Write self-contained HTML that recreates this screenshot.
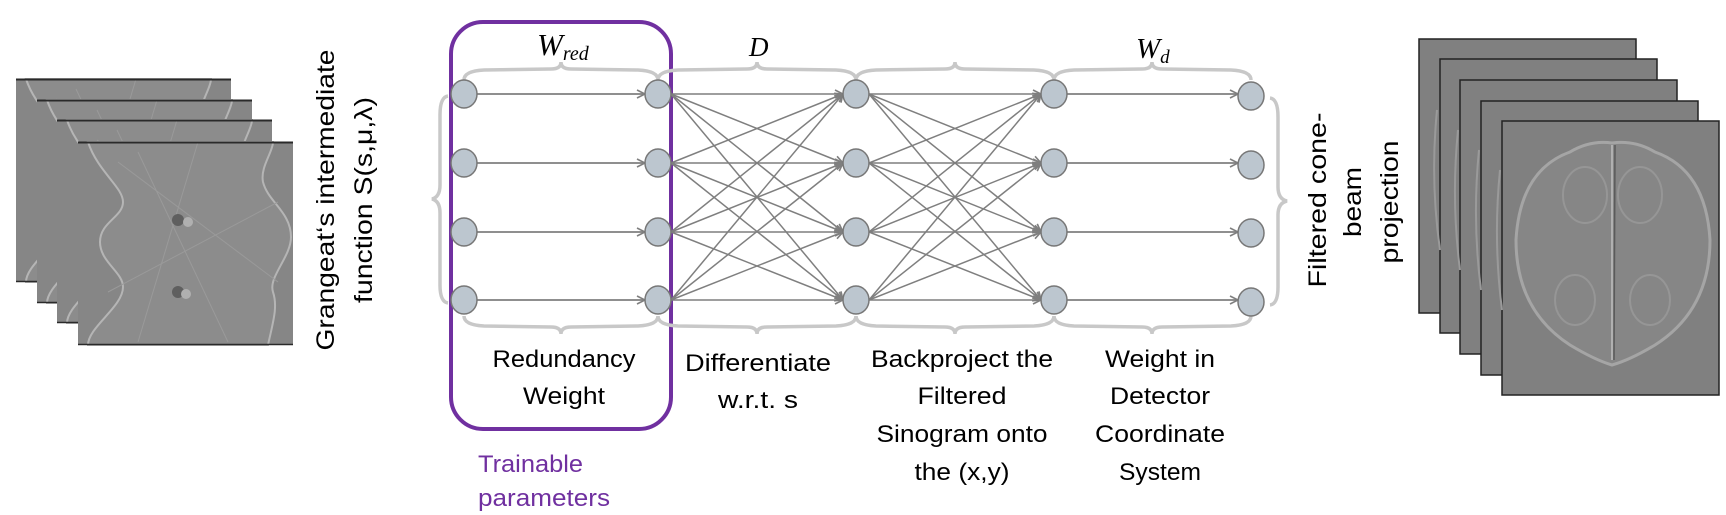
<!DOCTYPE html>
<html><head><meta charset="utf-8"><style>html,body{margin:0;padding:0;background:#fff}svg{display:block}</style></head>
<body>
<svg width="1726" height="515" viewBox="0 0 1726 515" xmlns="http://www.w3.org/2000/svg">
<defs>
<marker id="ar" markerWidth="10" markerHeight="10" refX="9" refY="5" orient="auto" markerUnits="userSpaceOnUse">
<path d="M1,1 L9,5 L1,9" fill="none" stroke="#7f7f7f" stroke-width="1.6"/>
</marker>
<g id="sino">
<rect x="0" y="0" width="215" height="203" fill="#868686"/>
<path d="M10,0 C20,30 45,45 45,60 C45,75 22,80 22,100 C22,120 45,130 45,145 C45,165 10,185 10,203 L190,203 C195,180 200,165 195,150 C190,135 213,115 213,95 C213,70 190,60 185,40 C182,25 195,10 195,0 Z" fill="#8c8c8c" stroke="#b5b5b5" stroke-width="2"/>
<path d="M40,20 L200,140 M30,150 L200,60 M60,10 L150,200 M120,0 L60,200" stroke="#9a9a9a" stroke-width="1" fill="none"/>
<circle cx="100" cy="78" r="6" fill="#5f5f5f"/><circle cx="100" cy="150" r="6" fill="#5f5f5f"/>
<circle cx="110" cy="80" r="5" fill="#b0b0b0"/><circle cx="108" cy="152" r="5" fill="#b0b0b0"/>
<line x1="0" y1="0.5" x2="215" y2="0.5" stroke="#2a2a2a" stroke-width="2"/>
<line x1="0" y1="202.5" x2="215" y2="202.5" stroke="#2a2a2a" stroke-width="1.5"/>
</g>
<g id="proj">
<rect x="0" y="0" width="217" height="274" fill="#808080" stroke="#222" stroke-width="1.5"/>
</g>
</defs>

<use href="#sino" x="16" y="79"/>
<use href="#sino" x="37" y="100"/>
<use href="#sino" x="57" y="120"/>
<use href="#sino" x="78" y="142"/>

<g font-family="Liberation Sans, sans-serif" font-size="25" fill="#000">
<text transform="translate(334,200) rotate(-90)" text-anchor="middle" textLength="301" lengthAdjust="spacingAndGlyphs">Grangeat‘s intermediate</text>
<text transform="translate(372,200) rotate(-90)" text-anchor="middle" textLength="206" lengthAdjust="spacingAndGlyphs">function S(s,μ,λ)</text>
</g>

<rect x="451" y="22" width="220" height="407" rx="32" ry="32" fill="none" stroke="#7030a0" stroke-width="4"/>

<g fill="none" stroke="#c8c8c8" stroke-width="3.5">
<path d="M464,80 Q464,71 484,70 L551,69 Q561,69 561,62 Q561,69 571,69 L638,70 Q658,71 658,80"/>
<path d="M658,80 Q658,71 678,70 L747,69 Q757,69 757,62 Q757,69 767,69 L836,70 Q856,71 856,80"/>
<path d="M856,80 Q856,71 876,70 L945,69 Q955,69 955,62 Q955,69 965,69 L1034,70 Q1054,71 1054,80"/>
<path d="M1054,80 Q1054,71 1074,70 L1142,69 Q1152,69 1152,62 Q1152,69 1162,69 L1231,70 Q1251,71 1251,80"/>
<path d="M464,316 Q464,325 484,326 L551,327 Q561,327 561,334 Q561,327 571,327 L638,326 Q658,325 658,316"/>
<path d="M658,316 Q658,325 678,326 L747,327 Q757,327 757,334 Q757,327 767,327 L836,326 Q856,325 856,316"/>
<path d="M856,316 Q856,325 876,326 L945,327 Q955,327 955,334 Q955,327 965,327 L1034,326 Q1054,325 1054,316"/>
<path d="M1054,316 Q1054,325 1074,326 L1142,327 Q1152,327 1152,334 Q1152,327 1162,327 L1231,326 Q1251,325 1251,316"/>
<path d="M448,96 Q440,97 440,115 L440,185 Q440,197 432,199 Q440,201 440,213 L440,285 Q440,302 448,303"/>
<path d="M1270,98 Q1278,99 1278,117 L1278,187 Q1278,199 1287,201 Q1278,203 1278,215 L1278,287 Q1278,304 1270,305"/>
</g>

<g font-family="Liberation Serif, serif" font-style="italic" fill="#000">
<text x="537" y="55" font-size="31">W<tspan font-size="20" dy="5">red</tspan></text>
<text x="749" y="56" font-size="27">D</text>
<text x="1136" y="58" font-size="29">W<tspan font-size="19" dy="5">d</tspan></text>
</g>

<g stroke="#7f7f7f" stroke-width="1.7" fill="none" marker-end="url(#ar)">
<line x1="477" y1="94" x2="645" y2="94"/>
<line x1="477" y1="163" x2="645" y2="163"/>
<line x1="477" y1="232" x2="645" y2="232"/>
<line x1="477" y1="300" x2="645" y2="300"/>
<line x1="1067" y1="94" x2="1238" y2="94"/>
<line x1="1067" y1="163" x2="1238" y2="163"/>
<line x1="1067" y1="232" x2="1238" y2="232"/>
<line x1="1067" y1="300" x2="1238" y2="300"/>
</g>
<g stroke="#7f7f7f" stroke-width="1.5" fill="none">
<line x1="671" y1="94" x2="843" y2="94" marker-end="url(#ar)"/><line x1="671" y1="94" x2="843" y2="163" marker-end="url(#ar)"/><line x1="671" y1="94" x2="843" y2="232" marker-end="url(#ar)"/><line x1="671" y1="94" x2="843" y2="300" marker-end="url(#ar)"/>
<line x1="671" y1="163" x2="843" y2="94" marker-end="url(#ar)"/><line x1="671" y1="163" x2="843" y2="163" marker-end="url(#ar)"/><line x1="671" y1="163" x2="843" y2="232" marker-end="url(#ar)"/><line x1="671" y1="163" x2="843" y2="300" marker-end="url(#ar)"/>
<line x1="671" y1="232" x2="843" y2="94" marker-end="url(#ar)"/><line x1="671" y1="232" x2="843" y2="163" marker-end="url(#ar)"/><line x1="671" y1="232" x2="843" y2="232" marker-end="url(#ar)"/><line x1="671" y1="232" x2="843" y2="300" marker-end="url(#ar)"/>
<line x1="671" y1="300" x2="843" y2="94" marker-end="url(#ar)"/><line x1="671" y1="300" x2="843" y2="163" marker-end="url(#ar)"/><line x1="671" y1="300" x2="843" y2="232" marker-end="url(#ar)"/><line x1="671" y1="300" x2="843" y2="300" marker-end="url(#ar)"/>
<line x1="869" y1="94" x2="1041" y2="94" marker-end="url(#ar)"/><line x1="869" y1="94" x2="1041" y2="163" marker-end="url(#ar)"/><line x1="869" y1="94" x2="1041" y2="232" marker-end="url(#ar)"/><line x1="869" y1="94" x2="1041" y2="300" marker-end="url(#ar)"/>
<line x1="869" y1="163" x2="1041" y2="94" marker-end="url(#ar)"/><line x1="869" y1="163" x2="1041" y2="163" marker-end="url(#ar)"/><line x1="869" y1="163" x2="1041" y2="232" marker-end="url(#ar)"/><line x1="869" y1="163" x2="1041" y2="300" marker-end="url(#ar)"/>
<line x1="869" y1="232" x2="1041" y2="94" marker-end="url(#ar)"/><line x1="869" y1="232" x2="1041" y2="163" marker-end="url(#ar)"/><line x1="869" y1="232" x2="1041" y2="232" marker-end="url(#ar)"/><line x1="869" y1="232" x2="1041" y2="300" marker-end="url(#ar)"/>
<line x1="869" y1="300" x2="1041" y2="94" marker-end="url(#ar)"/><line x1="869" y1="300" x2="1041" y2="163" marker-end="url(#ar)"/><line x1="869" y1="300" x2="1041" y2="232" marker-end="url(#ar)"/><line x1="869" y1="300" x2="1041" y2="300" marker-end="url(#ar)"/>
</g>

<g fill="#bcc6cf" stroke="#777" stroke-width="1.5">
<ellipse cx="464" cy="94" rx="13" ry="14"/><ellipse cx="464" cy="163" rx="13" ry="14"/><ellipse cx="464" cy="232" rx="13" ry="14"/><ellipse cx="464" cy="300" rx="13" ry="14"/>
<ellipse cx="658" cy="94" rx="13" ry="14"/><ellipse cx="658" cy="163" rx="13" ry="14"/><ellipse cx="658" cy="232" rx="13" ry="14"/><ellipse cx="658" cy="300" rx="13" ry="14"/>
<ellipse cx="856" cy="94" rx="13" ry="14"/><ellipse cx="856" cy="163" rx="13" ry="14"/><ellipse cx="856" cy="232" rx="13" ry="14"/><ellipse cx="856" cy="300" rx="13" ry="14"/>
<ellipse cx="1054" cy="94" rx="13" ry="14"/><ellipse cx="1054" cy="163" rx="13" ry="14"/><ellipse cx="1054" cy="232" rx="13" ry="14"/><ellipse cx="1054" cy="300" rx="13" ry="14"/>
<ellipse cx="1251" cy="96" rx="13" ry="14"/><ellipse cx="1251" cy="165" rx="13" ry="14"/><ellipse cx="1251" cy="233" rx="13" ry="14"/><ellipse cx="1251" cy="302" rx="13" ry="14"/>
</g>

<g font-family="Liberation Sans, sans-serif" font-size="24" fill="#000" text-anchor="middle">
<text x="564" y="367" textLength="143" lengthAdjust="spacingAndGlyphs">Redundancy</text>
<text x="564" y="404" textLength="82" lengthAdjust="spacingAndGlyphs">Weight</text>
<text x="758" y="371" textLength="146" lengthAdjust="spacingAndGlyphs">Differentiate</text>
<text x="758" y="408" textLength="80" lengthAdjust="spacingAndGlyphs">w.r.t. s</text>
<text x="962" y="367" textLength="182" lengthAdjust="spacingAndGlyphs">Backproject the</text>
<text x="962" y="404" textLength="89" lengthAdjust="spacingAndGlyphs">Filtered</text>
<text x="962" y="442" textLength="171" lengthAdjust="spacingAndGlyphs">Sinogram onto</text>
<text x="962" y="480" textLength="95" lengthAdjust="spacingAndGlyphs">the (x,y)</text>
<text x="1160" y="367" textLength="110" lengthAdjust="spacingAndGlyphs">Weight in</text>
<text x="1160" y="404" textLength="100" lengthAdjust="spacingAndGlyphs">Detector</text>
<text x="1160" y="442" textLength="130" lengthAdjust="spacingAndGlyphs">Coordinate</text>
<text x="1160" y="480" textLength="82" lengthAdjust="spacingAndGlyphs">System</text>
</g>
<g font-family="Liberation Sans, sans-serif" font-size="24" fill="#7030a0">
<text x="478" y="472" textLength="105" lengthAdjust="spacingAndGlyphs">Trainable</text>
<text x="478" y="506" textLength="132" lengthAdjust="spacingAndGlyphs">parameters</text>
</g>

<g font-family="Liberation Sans, sans-serif" font-size="25" fill="#000" text-anchor="middle">
<text transform="translate(1326,200) rotate(-90)" textLength="175" lengthAdjust="spacingAndGlyphs">Filtered cone-</text>
<text transform="translate(1361,202) rotate(-90)" textLength="70" lengthAdjust="spacingAndGlyphs">beam</text>
<text transform="translate(1398,202) rotate(-90)" textLength="123" lengthAdjust="spacingAndGlyphs">projection</text>
</g>

<use href="#proj" x="1419" y="39"/>
<use href="#proj" x="1440" y="59"/>
<use href="#proj" x="1460" y="80"/>
<use href="#proj" x="1481" y="101"/>
<use href="#proj" x="1502" y="121"/>
<g fill="none" stroke="#9a9a9a" stroke-width="2">
<path d="M1437,110 Q1430,180 1440,250" />
<path d="M1458,130 Q1451,200 1460,270" />
<path d="M1479,150 Q1472,220 1481,290" />
<path d="M1500,170 Q1493,240 1502,310" />
</g>
<path d="M1612,143 Q1590,140 1570,152 Q1520,170 1516,240 Q1516,310 1570,345 Q1595,360 1612,365 Q1630,360 1655,345 Q1710,310 1710,240 Q1706,170 1655,152 Q1635,140 1612,143 Z" fill="#868686" stroke="#a5a5a5" stroke-width="3"/>
<line x1="1612" y1="145" x2="1612" y2="360" stroke="#b0b0b0" stroke-width="2"/>
<line x1="1615" y1="145" x2="1614" y2="360" stroke="#5a5a5a" stroke-width="1.5"/>
<g fill="none" stroke="#969696" stroke-width="2">
<ellipse cx="1585" cy="195" rx="22" ry="28"/><ellipse cx="1640" cy="195" rx="22" ry="28"/>
<ellipse cx="1575" cy="300" rx="20" ry="25"/><ellipse cx="1650" cy="300" rx="20" ry="25"/>
</g>
</svg>
</body></html>
